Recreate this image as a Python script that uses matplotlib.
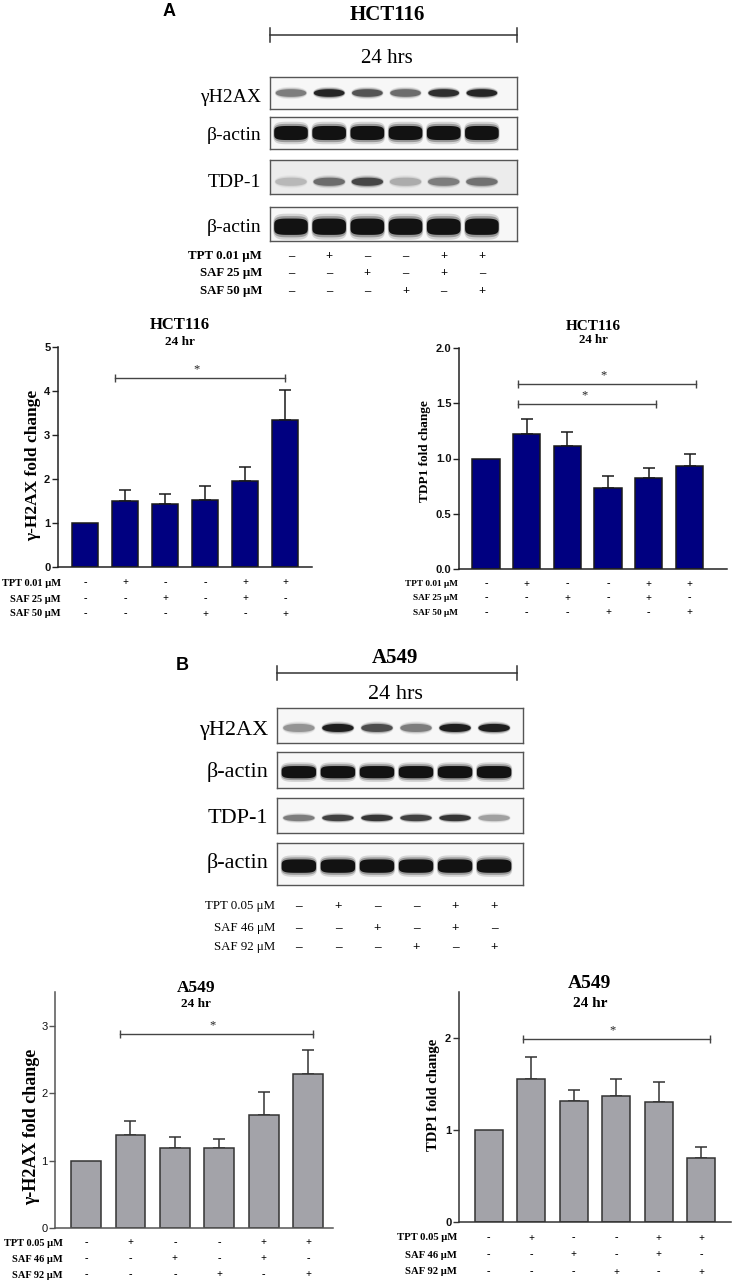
import numpy as np
import matplotlib
matplotlib.use("Agg")
import matplotlib.pyplot as plt
import matplotlib.transforms as mtransforms
from matplotlib.patches import Polygon

W, H = 733, 1283

# ---------------- data ----------------
lanes = [0, 1, 2, 3, 4, 5]
tpt_signs = ['-', '+', '-', '-', '+', '+']
saf_low_signs = ['-', '-', '+', '-', '+', '-']
saf_high_signs = ['-', '-', '-', '+', '-', '+']

hct_treat_labels = ['TPT 0.01 μM', 'SAF 25 μM', 'SAF 50 μM']
a549_treat_labels = ['TPT 0.05 μM', 'SAF 46 μM', 'SAF 92 μM']
blot_labels = ['γH2AX', 'β-actin', 'TDP-1', 'β-actin']

# band darkness (0 = none, 1 = black) read from the blots
hct_blot_h2ax = [0.55, 0.92, 0.72, 0.62, 0.88, 0.92]
hct_blot_actin1 = [1.0, 1.0, 1.0, 1.0, 1.0, 1.0]
hct_blot_tdp1 = [0.30, 0.62, 0.78, 0.35, 0.55, 0.60]
hct_blot_actin2 = [1.0, 1.0, 1.0, 1.0, 1.0, 1.0]
a549_blot_h2ax = [0.45, 0.95, 0.75, 0.55, 0.95, 0.95]
a549_blot_actin1 = [1.0, 1.0, 1.0, 1.0, 1.0, 1.0]
a549_blot_tdp1 = [0.55, 0.80, 0.85, 0.80, 0.85, 0.40]
a549_blot_actin2 = [1.0, 1.0, 1.0, 1.0, 1.0, 1.0]

hct_h2ax_mean = [1.00, 1.50, 1.44, 1.53, 1.96, 3.35]
hct_h2ax_err = [0.00, 0.25, 0.23, 0.30, 0.31, 0.68]
hct_tdp1_mean = [1.00, 1.22, 1.11, 0.73, 0.82, 0.93]
hct_tdp1_err = [0.00, 0.14, 0.13, 0.11, 0.09, 0.11]
a549_h2ax_mean = [1.00, 1.38, 1.18, 1.19, 1.68, 2.29]
a549_h2ax_err = [0.00, 0.21, 0.17, 0.13, 0.34, 0.35]
a549_tdp1_mean = [1.00, 1.55, 1.31, 1.37, 1.30, 0.70]
a549_tdp1_err = [0.00, 0.24, 0.12, 0.18, 0.22, 0.12]

# significance brackets: (start, end, height)
hct_h2ax_sig = [(0.75, 5.0, 4.30)]
hct_tdp1_sig = [(0.80, 5.15, 1.67), (0.80, 4.18, 1.49)]
a549_h2ax_sig = [(0.77, 5.10, 2.87)]
a549_tdp1_sig = [(0.80, 5.20, 1.99)]

SERIF = ['Liberation Serif', 'DejaVu Serif']
SANS = ['Liberation Sans', 'DejaVu Sans']

fig = plt.figure(figsize=(W / 100, H / 100), dpi=100)
fig.patch.set_facecolor('white')
PX = mtransforms.Affine2D().scale(1.0 / W, -1.0 / H).translate(0, 1) + fig.transFigure


def add_ax(x0, x1, y0, y1):
    return fig.add_axes([x0 / W, 1 - y1 / H, (x1 - x0) / W, (y1 - y0) / H])


def ptext(x, y, s, **kw):
    kw.setdefault('family', SERIF)
    fig.text(x, y, s, transform=PX, **kw)


def bracket(x0, x1, y, tick=7, color='#333333'):
    fig.add_artist(plt.Line2D([x0, x1], [y, y], transform=PX, color=color, lw=1.1))
    for xx in (x0, x1):
        fig.add_artist(plt.Line2D([xx, xx], [y - tick, y + tick], transform=PX, color=color, lw=1.1))


def band(ax, xc, yc, w, h, v, n):
    t = np.linspace(0, 2 * np.pi, 120)
    c, s = np.cos(t), np.sin(t)
    bx = np.sign(c) * np.abs(c) ** (2.0 / n)
    by = np.sign(s) * np.abs(s) ** (2.0 / n)
    g = 1 - 0.93 * v
    for sw, sh, a in [(1.06, 1.6, 0.15), (1.03, 1.3, 0.3), (1.0, 1.0, 1.0)]:
        ax.add_patch(Polygon(np.column_stack([xc + bx * w / 2 * sw, yc + by * h / 2 * sh]),
                             closed=True, facecolor=(g, g, g), edgecolor='none', alpha=a))


def blot_panel(x0, x1, boxes, xlim, rows, params, label_x, label_ys, label_fs, bg):
    axes = []
    for (y0, y1), vals, (yc, hh, ww, n), bgc in zip(boxes, rows, params, bg):
        ax = add_ax(x0, x1, y0, y1)
        ax.set_xlim(*xlim)
        ax.set_ylim(0, 1)
        ax.set_facecolor(bgc)
        ax.set_xticks([])
        ax.set_yticks([])
        for sp in ax.spines.values():
            sp.set_color('#555555')
            sp.set_linewidth(1.0)
        for i, v in zip(lanes, vals):
            band(ax, i, yc, ww, hh, v, n)
        axes.append(ax)
    for lab, y in zip(blot_labels, label_ys):
        ptext(label_x, y, lab, ha='right', va='baseline', fontsize=label_fs)
    return axes


def sign_rows(ax, labels, label_x, ys, fs_label, fs_sign, weight, dash):
    tr = mtransforms.blended_transform_factory(ax.transData, PX)
    for lab, y, signs in zip(labels, ys, [tpt_signs, saf_low_signs, saf_high_signs]):
        ptext(label_x, y, lab, ha='right', va='center', fontsize=fs_label, fontweight=weight)
        for i, sg in zip(lanes, signs):
            ax.text(i, y, dash if sg == '-' else '+', transform=tr, ha='center', va='center',
                    fontsize=fs_sign, fontweight='bold', family=SERIF)


# ---------------- Panel A blots ----------------
ptext(169, 11, 'A', ha='center', va='center', fontsize=13, fontweight='bold', family=SANS)
ptext(387, 20, 'HCT116', ha='center', va='baseline', fontsize=15, fontweight='bold')
bracket(270, 517, 35)
ptext(387, 63, '24 hrs', ha='center', va='baseline', fontsize=15)
axA = blot_panel(270, 517, [(77, 109), (117, 149), (160, 194), (207, 241)], (-0.55, 5.92),
                 [hct_blot_h2ax, hct_blot_actin1, hct_blot_tdp1, hct_blot_actin2],
                 [(0.5, 0.24, 0.80, 2.2), (0.5, 0.44, 0.88, 4.0), (0.36, 0.24, 0.82, 2.2), (0.42, 0.48, 0.88, 4.0)],
                 261, [102, 140, 187, 232], 14,
                 ['#f7f7f7', '#f7f7f7', '#ececec', '#f7f7f7'])
sign_rows(axA[-1], hct_treat_labels, 262, [256, 273, 291], 9.3, 9, 'bold', '–')

# ---------------- Panel B blots ----------------
ptext(182, 665, 'B', ha='center', va='center', fontsize=13, fontweight='bold', family=SANS)
ptext(395, 663, 'A549', ha='center', va='baseline', fontsize=15, fontweight='bold')
bracket(277, 517, 673)
ptext(395, 699, '24 hrs', ha='center', va='baseline', fontsize=16)
axB = blot_panel(277, 523, [(708, 743), (752, 788), (798, 833), (843, 885)], (-0.56, 5.74),
                 [a549_blot_h2ax, a549_blot_actin1, a549_blot_tdp1, a549_blot_actin2],
                 [(0.43, 0.23, 0.80, 2.2), (0.44, 0.34, 0.88, 4.0), (0.43, 0.18, 0.80, 2.2), (0.45, 0.32, 0.88, 4.0)],
                 268, [735, 777, 823, 868], 16,
                 ['#f7f7f7', '#f7f7f7', '#f7f7f7', '#f7f7f7'])
sign_rows(axB[-1], a549_treat_labels, 275, [906, 928, 947], 9.3, 9.5, 'normal', '–')


# ---------------- bar charts ----------------
def bar_chart(rect, xlim, ylim, yticks, yticklabels, means, errs, sigs, color, edge, spine_col,
              tick_weight, tick_fs, title, title_x, title_base, title_fs, sub_base, sub_fs,
              ylabel, ylabel_xy, ylabel_fs, treat_labels, treat_x, treat_ys, treat_fs):
    ax = add_ax(*rect)
    ax.bar(lanes, means, width=0.67, color=color, edgecolor=edge, linewidth=1.1, zorder=2)
    ax.errorbar(lanes[1:], means[1:], yerr=[np.zeros(len(lanes) - 1), errs[1:]], fmt='none',
                ecolor=edge, elinewidth=1.1, capsize=4.5, capthick=1.1, zorder=1)
    for (a, b, h) in sigs:
        ax.plot([a, b], [h, h], color='#444444', lw=1.0, marker='|', markersize=6,
                markeredgewidth=1.0, zorder=3, clip_on=False)
        ax.text((a + b) / 2 - 0.08, h + (ylim[1] - ylim[0]) * 0.012, '*', ha='center', va='bottom',
                fontsize=9, family=SERIF, color='#222222')
    ax.set_xlim(*xlim)
    ax.set_ylim(*ylim)
    ax.set_xticks([])
    ax.set_yticks(yticks)
    ax.set_yticklabels(yticklabels, fontsize=tick_fs, fontweight=tick_weight, family=SANS,
                       color='#111111')
    ax.tick_params(axis='y', length=4, width=1, pad=1.5, colors=spine_col, labelcolor='#111111')
    for s in ['top', 'right']:
        ax.spines[s].set_visible(False)
    for s in ['left', 'bottom']:
        ax.spines[s].set_color(spine_col)
        ax.spines[s].set_linewidth(1.1)
    ax.set_facecolor('none')
    ptext(title_x, title_base, title, ha='center', va='baseline', fontsize=title_fs, fontweight='bold')
    ptext(title_x, sub_base, '24 hr', ha='center', va='baseline', fontsize=sub_fs, fontweight='bold')
    ptext(ylabel_xy[0], ylabel_xy[1], ylabel, ha='center', va='center', rotation=90,
          fontsize=ylabel_fs, fontweight='bold')
    sign_rows(ax, treat_labels, treat_x, treat_ys, treat_fs, 7.5, 'bold', '-')
    return ax


NAVY = '#000080'
GREY = '#a3a3a9'

bar_chart((58, 312, 347, 567), (-0.675, 5.675), (0, 5), [0, 1, 2, 3, 4, 5], ['0', '1', '2', '3', '4', '5'],
          hct_h2ax_mean, hct_h2ax_err, hct_h2ax_sig, NAVY, '#1a1a1a', '#222222', 'bold', 8,
          'HCT116', 180, 329, 12, 345, 9.5,
          'γ-H2AX fold change', (33, 465), 12.5, hct_treat_labels, 61, [583, 599, 614], 7.5)

bar_chart((459, 727, 348, 569), (-0.66, 5.92), (0, 2), [0, 0.5, 1.0, 1.5, 2.0],
          ['0.0', '0.5', '1.0', '1.5', '2.0'],
          hct_tdp1_mean, hct_tdp1_err, hct_tdp1_sig, NAVY, '#1a1a1a', '#222222', 'bold', 8,
          'HCT116', 593, 330, 11, 343, 9.3,
          'TDP1 fold change', (425, 451), 9.5, hct_treat_labels, 458, [584, 598, 613], 6.7)

bar_chart((55, 333, 992, 1228), (-0.70, 5.56), (0, 3.5), [0, 1, 2, 3], ['0', '1', '2', '3'],
          a549_h2ax_mean, a549_h2ax_err, a549_h2ax_sig, GREY, '#333333', '#555555', 'normal', 8,
          'A549', 196, 992, 12.5, 1007, 9.5,
          'γ-H2AX fold change', (32, 1127), 13, a549_treat_labels, 63, [1243, 1259, 1275], 7.5)

bar_chart((459, 731, 992, 1222), (-0.70, 5.70), (0, 2.5), [0, 1, 2], ['0', '1', '2'],
          a549_tdp1_mean, a549_tdp1_err, a549_tdp1_sig, GREY, '#333333', '#333333', 'bold', 8,
          'A549', 590, 988, 14, 1007, 11,
          'TDP1 fold change', (433, 1095), 10.5, a549_treat_labels, 457, [1238, 1255, 1272], 7.7)

fig.savefig('out.png', dpi=100, facecolor='white')
